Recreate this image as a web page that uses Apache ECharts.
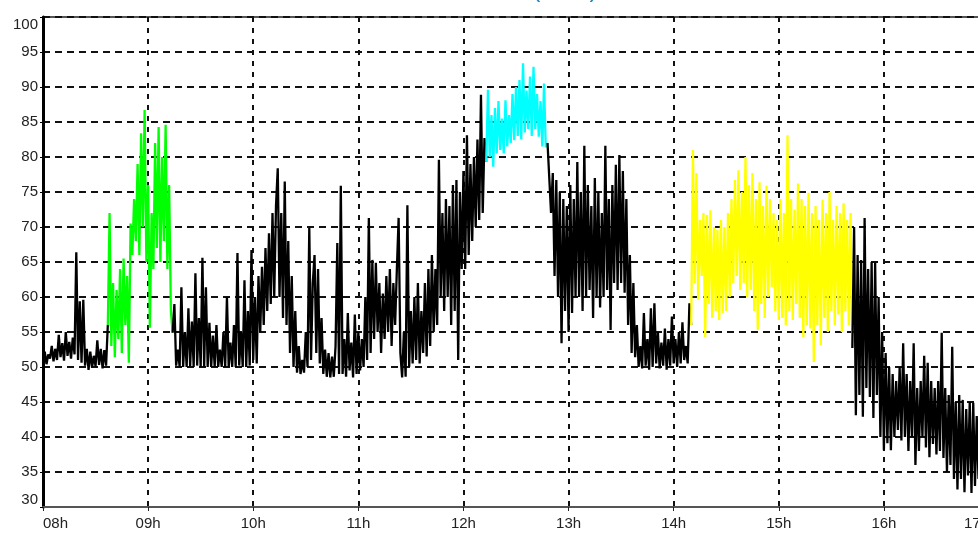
<!DOCTYPE html>
<html>
<head>
<meta charset="utf-8">
<script src="https://cdn.jsdelivr.net/npm/echarts@6/dist/echarts.min.js"></script>
<style>
  html, body { margin: 0; padding: 0; background: #fff; }
  #chart { width: 978px; height: 534px; }
</style>
</head>
<body>
<div id="chart"></div>
<script>
// x is minutes after 08:00, one reading per minute
const hourLabels = ['08h', '09h', '10h', '11h', '12h', '13h', '14h', '15h', '16h', '17h'];

// 08:00 - 08:37
const black1Start = 0;
const black1 = [
  50.6, 52.2, 50.4, 51.8, 51.2, 53.0, 50.8, 52.6, 51.0, 54.6,
  51.4, 53.4, 50.9, 55.0, 51.6, 53.6, 51.2, 54.2, 51.8, 66.4,
  51.0, 59.4, 50.6, 59.6, 50.2, 52.6, 49.6, 52.2, 49.9, 51.6,
  50.1, 53.8, 50.3, 52.6, 49.8, 52.4, 50.2, 56.0
];

// 08:37 - 09:14
const greenStart = 37;
const green = [
  56.0, 72.0, 53.0, 62.0, 51.4, 61.0, 54.0, 64.0, 52.0, 65.5,
  56.0, 63.0, 50.6, 70.5, 66.0, 74.0, 68.0, 79.0, 66.0, 83.4,
  70.0, 86.7, 65.0, 76.0, 55.6, 72.0, 64.0, 82.0, 67.0, 84.3,
  65.0, 80.0, 68.0, 84.6, 64.0, 76.0, 58.0, 54.9
];

// 09:14 - 12:13
const black2Start = 74;
const black2 = [
  54.9, 59.0, 50.2, 52.5, 50.0, 61.4, 50.0, 55.0, 50.0, 58.4,
  50.1, 56.5, 50.0, 63.4, 50.2, 57.0, 50.0, 65.6, 50.0, 61.4,
  50.0, 56.3, 50.0, 54.5, 50.0, 56.0, 50.0, 52.5, 50.0, 55.0,
  50.0, 60.0, 50.0, 53.5, 50.0, 56.0, 50.0, 66.3, 50.2, 55.0,
  50.0, 62.4, 50.0, 58.0, 50.2, 66.7, 51.0, 60.0, 50.5, 63.0,
  55.0, 64.3, 56.0, 67.0, 58.0, 69.1, 59.0, 72.0, 60.0, 73.0,
  78.4, 60.0, 72.0, 57.0, 76.5, 56.0, 68.0, 52.0, 63.0, 50.0,
  58.0, 49.2, 53.0, 49.0, 51.0, 49.2, 55.0, 50.0, 69.9, 51.0,
  62.0, 66.0, 52.0, 64.0, 50.5, 57.0, 49.0, 52.5, 48.6, 52.0,
  48.5, 51.5, 48.6, 53.0, 67.7, 49.0, 75.9, 49.0, 54.0, 48.6,
  57.7, 49.5, 53.5, 48.5, 57.5, 49.0, 55.0, 49.5, 54.0, 50.0,
  60.0, 51.0, 71.3, 52.0, 65.3, 54.0, 64.9, 55.0, 62.0, 52.0,
  60.5, 54.0, 63.0, 55.0, 64.0, 53.0, 62.0, 56.0, 64.0, 71.3,
  52.0, 48.5, 55.0, 48.6, 73.1, 50.0, 58.0, 50.5, 60.0, 51.0,
  62.0, 50.5, 58.0, 52.0, 62.0, 51.5, 64.0, 53.0, 66.0, 55.0,
  64.0, 56.0, 79.6, 60.0, 72.0, 58.0, 74.0, 60.0, 73.0, 56.0,
  76.0, 58.0, 76.7, 51.0, 75.0, 64.0, 78.0, 64.0, 83.1, 66.0,
  79.0, 68.0, 80.0, 70.0, 82.5, 71.0, 88.9, 72.0, 82.7, 79.3
];

// 12:13 - 12:48
const cyanStart = 253;
const cyan = [
  79.3, 89.6, 80.0, 86.0, 78.6, 87.0, 80.5, 88.0, 81.0, 85.5,
  80.5, 88.1, 81.5, 86.0, 82.0, 89.0, 82.4, 90.0, 83.0, 91.0,
  82.5, 93.4, 83.5, 89.5, 84.0, 91.5, 83.0, 92.9, 84.0, 89.0,
  82.9, 88.0, 81.5, 90.5, 81.4, 82.0
];

// 12:48 - 14:10
const black3Start = 288;
const black3 = [
  82.0, 77.0, 72.0, 77.7, 63.0, 76.7, 60.0, 75.0, 53.4, 74.0,
  58.0, 73.0, 55.0, 76.0, 57.7, 74.0, 60.0, 79.3, 60.0, 75.0,
  58.0, 81.6, 60.0, 76.0, 61.0, 73.0, 57.0, 77.0, 60.0, 75.0,
  58.5, 72.0, 60.0, 81.6, 61.0, 74.0, 55.3, 76.0, 62.0, 78.9,
  61.0, 80.3, 62.0, 78.0, 60.6, 74.0, 56.0, 66.0, 52.0, 62.0,
  51.4, 56.0, 50.0, 53.0, 49.8, 57.7, 50.2, 54.0, 49.6, 58.4,
  50.0, 59.1, 50.5, 55.0, 49.8, 53.5, 50.2, 55.5, 49.6, 54.0,
  50.2, 57.2, 50.5, 54.0, 50.0, 55.0, 50.5, 56.4, 51.0, 53.0,
  50.5, 59.1, 56.0
];

// 14:10 - 15:42
const yellowStart = 370;
const yellow = [
  56.0, 81.0, 62.0, 77.7, 59.6, 71.0, 63.0, 72.0, 54.3, 71.7,
  59.0, 72.4, 57.0, 70.0, 58.0, 69.6, 56.7, 71.0, 57.7, 70.0,
  58.0, 72.0, 60.0, 74.0, 62.0, 76.7, 63.0, 78.1, 61.0, 75.0,
  62.0, 80.0, 60.0, 76.0, 61.0, 77.7, 58.0, 74.0, 55.3, 76.4,
  59.0, 73.0, 57.0, 75.9, 60.0, 74.0, 61.4, 72.0, 58.0, 71.0,
  56.7, 74.0, 57.0, 72.0, 56.0, 83.1, 58.0, 74.0, 56.7, 72.5,
  59.0, 76.2, 57.0, 74.0, 54.3, 73.0, 56.0, 74.9, 55.5, 72.0,
  50.7, 73.0, 56.0, 71.0, 53.1, 73.9, 57.0, 72.0, 55.0, 75.0,
  58.0, 71.0, 56.0, 73.0, 57.5, 72.0, 55.0, 73.4, 58.0, 71.0,
  56.0, 72.0, 52.7
];

// 15:42 - 16:56
const black4Start = 462;
const black4 = [
  52.7, 70.0, 43.1, 66.0, 46.0, 65.3, 42.9, 71.3, 47.0, 64.0,
  45.7, 65.0, 42.7, 64.9, 46.0, 60.0, 40.0, 55.0, 38.1, 52.0,
  39.1, 50.0, 38.1, 49.0, 40.0, 48.0, 41.0, 50.0, 39.5, 53.4,
  40.0, 49.0, 38.0, 48.0, 40.0, 53.4, 36.0, 47.0, 38.0, 48.0,
  40.0, 51.6, 38.5, 50.6, 37.1, 48.0, 39.0, 47.0, 37.5, 48.0,
  38.0, 54.9, 37.0, 47.0, 35.0, 46.0, 36.0, 52.9, 34.0, 45.0,
  32.5, 46.0, 34.0, 45.3, 32.1, 44.0, 34.5, 45.0, 32.0, 44.9,
  33.0, 43.0, 34.0, 42.0, 35.0
];

const segments = [
  { start: black1Start, values: black1, color: '#000000' },
  { start: greenStart, values: green, color: '#00ff00' },
  { start: black2Start, values: black2, color: '#000000' },
  { start: cyanStart, values: cyan, color: '#00ffff' },
  { start: black3Start, values: black3, color: '#000000' },
  { start: yellowStart, values: yellow, color: '#ffff00' },
  { start: black4Start, values: black4, color: '#000000' }
];

const chart = echarts.init(document.getElementById('chart'));

const labelFont = {
  color: '#222',
  fontFamily: 'Liberation Sans, Arial, sans-serif',
  fontSize: 15
};

chart.setOption({
  animation: false,
  backgroundColor: '#fff',
  graphic: [{
    type: 'text',
    x: 565,
    y: -10,
    silent: true,
    style: {
      text: '(dBA)',
      fill: '#2a86c0',
      font: '26px "Liberation Sans", Arial, sans-serif',
      textAlign: 'center',
      textVerticalAlign: 'middle'
    }
  }],
  grid: {
    left: 43,
    right: -11,
    top: 17,
    bottom: 27,
    outerBoundsMode: 'none',
    containLabel: false,
    show: true,
    borderColor: '#555',
    borderWidth: 2
  },
  xAxis: {
    type: 'value',
    min: 0,
    max: 540,
    interval: 60,
    axisLine: { show: true, onZero: false, lineStyle: { color: '#555', width: 2 } },
    axisTick: { show: true, length: 4, lineStyle: { color: '#222' } },
    splitLine: { show: true, lineStyle: { color: '#111', width: 2, type: [5, 6] } },
    axisLabel: Object.assign({
      margin: 9,
      showMinLabel: true,
      showMaxLabel: true,
      alignMinLabel: 'left',
      alignMaxLabel: 'right',
      formatter: (v) => hourLabels[Math.round(v / 60)]
    }, labelFont)
  },
  yAxis: {
    type: 'value',
    min: 30,
    max: 100,
    interval: 5,
    axisLine: { show: true, lineStyle: { color: '#000', width: 3 } },
    axisTick: { show: true, length: 3, lineStyle: { color: '#000' } },
    splitLine: { show: true, lineStyle: { color: '#111', width: 2, type: [7, 5] } },
    axisLabel: Object.assign({
      margin: 5,
      showMinLabel: true,
      showMaxLabel: true,
      verticalAlignMinLabel: 'bottom',
      verticalAlignMaxLabel: 'top'
    }, labelFont)
  },
  series: segments.map((s) => ({
    type: 'line',
    silent: true,
    symbol: 'none',
    showSymbol: false,
    data: s.values.map((v, i) => [s.start + i, v]),
    lineStyle: { color: s.color, width: 2.3 },
    itemStyle: { color: s.color }
  }))
});
</script>
</body>
</html>
